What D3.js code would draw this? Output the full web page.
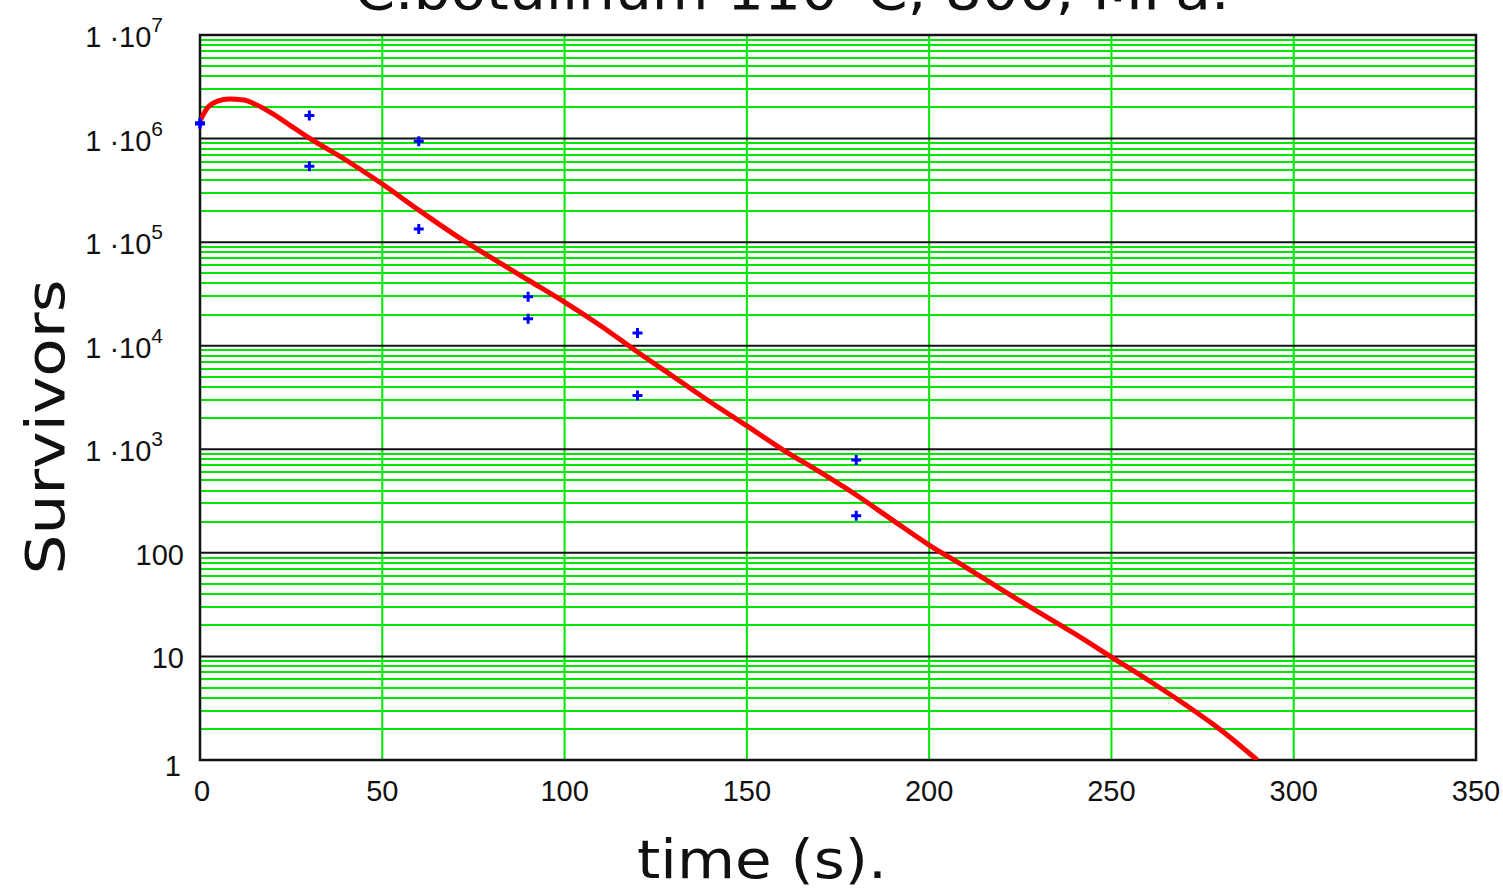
<!DOCTYPE html>
<html>
<head>
<meta charset="utf-8">
<script src="https://cdn.jsdelivr.net/npm/d3@7"></script>
<style>
  html, body { margin: 0; padding: 0; background: #fff; }
  svg { display: block; }
</style>
</head>
<body>
<svg id="chart" width="1503" height="893"></svg>
<script>
// ---------- data ----------
const timeTicks = [0, 50, 100, 150, 200, 250, 300, 350];
const survTicks = [1, 10, 100, 1e3, 1e4, 1e5, 1e6, 1e7];
const survTickLabels = ["1", "10", "100", "1 \u00b710^3", "1 \u00b710^4", "1 \u00b710^5", "1 \u00b710^6", "1 \u00b710^7"];

// observed survivors (blue crosses)
const obsTime = [0, 0, 30, 30, 60, 60, 90, 90, 120, 120, 180, 180];
const obsSurv = [1.42e6, 1.38e6, 1.67e6, 5.4e5, 9.4e5, 1.34e5, 2.97e4, 1.82e4, 1.33e4, 3.3e3, 790, 228];

// fitted model curve (red line)
const fitTime = [0, 2, 5, 8, 12, 15, 20, 25, 30, 40, 50, 60, 70, 80, 90, 100, 110, 120, 130, 140,
                 150, 160, 170, 180, 190, 200, 210, 220, 230, 240, 250, 260, 270, 280, 290];
const fitSurv = [1.48e6, 1.97e6, 2.31e6, 2.41e6, 2.36e6, 2.16e6, 1.73e6, 1.32e6, 1.01e6, 6.21e5,
                 3.64e5, 2.04e5, 1.17e5, 7.03e4, 4.31e4, 2.64e4, 1.55e4, 8.69e3, 4.99e3, 2.86e3,
                 1.68e3, 984, 604, 362, 207, 119, 73, 43.8, 26.8, 16.5, 9.87, 5.92, 3.47, 1.95, 1.0];

const titleText = "C.botulinum  110\u00b0C, 800, MPa.";
const xTitle = "time (s).";
const yTitle = "Survivors";

// ---------- layout ----------
const L = 200, R = 1476, T = 35, B = 760;
const svg = d3.select("#chart");

const x = d3.scaleLinear().domain([0, 350]).range([L, R]);
const y = d3.scaleLog().domain([1, 1e7]).range([B, T]);

// minor grid values (2..9 x 10^k)
const minor = [];
for (let k = 0; k < 7; k++) for (let m = 2; m <= 9; m++) minor.push(m * Math.pow(10, k));

const green = "#00e600";

// vertical green grid
svg.append("g").selectAll("line").data(timeTicks.slice(1, -1)).join("line")
  .attr("x1", d => x(d)).attr("x2", d => x(d)).attr("y1", T).attr("y2", B)
  .attr("stroke", green).attr("stroke-width", 2);

// minor horizontal green grid
svg.append("g").selectAll("line").data(minor).join("line")
  .attr("x1", L).attr("x2", R).attr("y1", d => Math.round(y(d))).attr("y2", d => Math.round(y(d)))
  .attr("stroke", green).attr("stroke-width", 2);

// major black horizontal grid
svg.append("g").selectAll("line").data(survTicks).join("line")
  .attr("x1", L).attr("x2", R).attr("y1", d => y(d)).attr("y2", d => y(d))
  .attr("stroke", "#111").attr("stroke-width", 2);

// frame
svg.append("rect").attr("x", L).attr("y", T).attr("width", R - L).attr("height", B - T)
  .attr("fill", "none").attr("stroke", "#111").attr("stroke-width", 2.5);

// clip
svg.append("clipPath").attr("id", "clip").append("rect")
  .attr("x", L).attr("y", T).attr("width", R - L).attr("height", B - T);

// red fitted line
const line = d3.line().x((d, i) => x(fitTime[i])).y(d => y(d)).curve(d3.curveMonotoneX);
svg.append("path").datum(fitSurv).attr("d", line)
  .attr("fill", "none").attr("stroke", "#ff0000").attr("stroke-width", 5)
  .attr("clip-path", "url(#clip)");

// blue crosses
const cs = 5;
const gPts = svg.append("g");
obsSurv.forEach((v, i) => {
  const cx = x(obsTime[i]), cy = y(v);
  gPts.append("path")
    .attr("d", `M${cx - cs},${cy}H${cx + cs}M${cx},${cy - cs}V${cy + cs}`)
    .attr("stroke", "#0000ff").attr("stroke-width", 3);
});

// x tick labels
svg.append("g").selectAll("text").data(timeTicks).join("text")
  .attr("x", d => x(d) + (d === 0 ? 2 : 0)).attr("y", 801)
  .attr("text-anchor", "middle")
  .attr("font-family", "Liberation Sans, Arial, sans-serif").attr("font-size", 29)
  .attr("fill", "#111")
  .text(d => d);

// y tick labels
const gy = svg.append("g").attr("font-family", "Liberation Sans, Arial, sans-serif").attr("fill", "#111");
survTicks.forEach((v, i) => {
  const lab = survTickLabels[i];
  const yy = y(v) + 12;
  if (lab.includes("^")) {
    const [base, ex] = lab.split("^");
    const t = gy.append("text").attr("x", 163).attr("y", yy).attr("text-anchor", "end").attr("font-size", 29);
    t.append("tspan").text(base);
    t.append("tspan").attr("font-size", 21).attr("dy", -15).text(ex);
  } else {
    gy.append("text").attr("x", i === 0 ? 181 : 184).attr("y", i === 0 ? yy + 4 : yy)
      .attr("text-anchor", "end").attr("font-size", 29).text(lab);
  }
});

// axis titles
svg.append("text").attr("x", 762).attr("y", 878).attr("text-anchor", "middle")
  .attr("font-family", "DejaVu Sans, sans-serif").attr("font-size", 54).attr("fill", "#111")
  .attr("textLength", 250).attr("lengthAdjust", "spacingAndGlyphs")
  .text(xTitle);

svg.append("text").attr("transform", "translate(64,427) rotate(-90)").attr("text-anchor", "middle")
  .attr("font-family", "DejaVu Sans, sans-serif").attr("font-size", 54).attr("fill", "#111")
  .attr("textLength", 295).attr("lengthAdjust", "spacingAndGlyphs")
  .text(yTitle);

// title (partly above the top edge, as in the reference)
svg.append("text").attr("x", 792).attr("y", 9).attr("text-anchor", "middle")
  .attr("font-family", "DejaVu Sans, sans-serif").attr("font-size", 56).attr("fill", "#111")
  .attr("textLength", 875).attr("lengthAdjust", "spacingAndGlyphs")
  .text(titleText);
</script>
</body>
</html>
